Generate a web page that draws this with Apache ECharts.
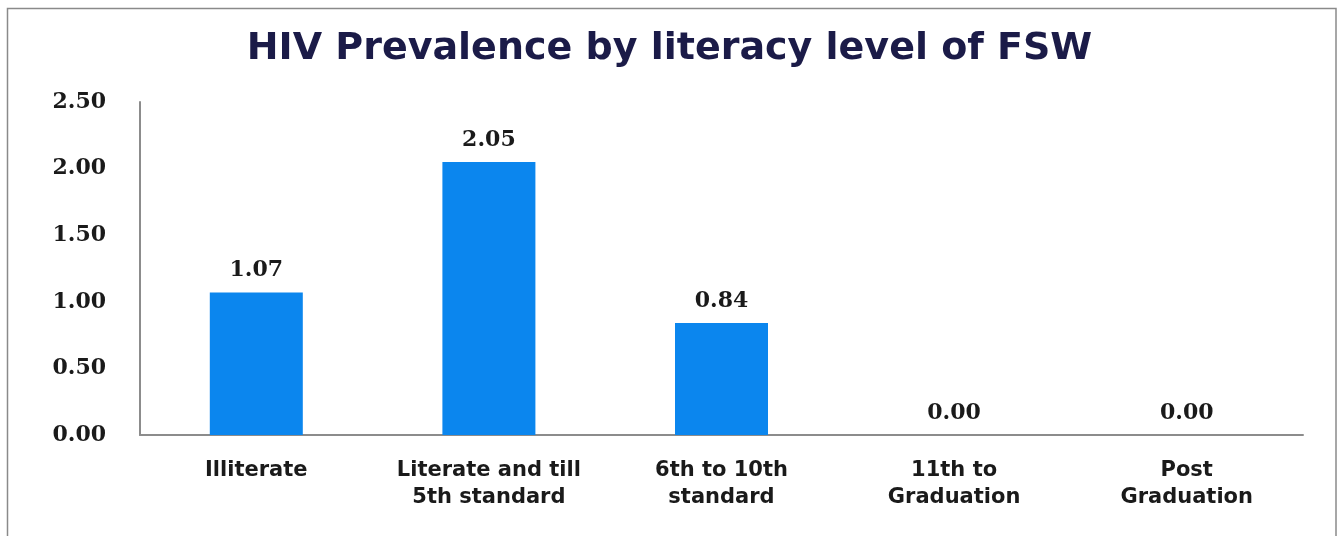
<!DOCTYPE html>
<html>
<head>
<meta charset="utf-8">
<script src="https://cdn.jsdelivr.net/npm/echarts@6/dist/echarts.min.js"></script>
<style>
  html, body { margin: 0; padding: 0; background: #fff; }
  #chart { width: 1339px; height: 536px; }
</style>
</head>
<body>
<div id="chart"></div>
<script>
var categories = ['Illiterate', 'Literate and till\n5th standard', '6th to 10th\nstandard', '11th to\nGraduation', 'Post\nGraduation'];
var prevalence = [1.07, 2.05, 0.84, 0.00, 0.00];

var chart = echarts.init(document.getElementById('chart'));

chart.setOption({
    animation: false,
    title: {
        text: 'HIV Prevalence by literacy level of FSW',
        left: 'center',
        top: 25,
        textStyle: {
            fontFamily: 'DejaVu Sans',
            fontWeight: 'bold',
            fontSize: 38,
            color: '#1b1b48'
        }
    },
    graphic: [{
        type: 'rect',
        shape: { x: 7.5, y: 8.5, width: 1328.5, height: 540 },
        style: { fill: 'none', stroke: '#8a8a8a', lineWidth: 1.5 },
        silent: true
    }],
    grid: { left: 140, right: 36, top: 102, bottom: 101 },
    xAxis: {
        type: 'category',
        data: categories,
        axisLine: { lineStyle: { color: '#8c8c8c', width: 2 } },
        axisTick: { show: false },
        axisLabel: {
            interval: 0,
            margin: 22,
            lineHeight: 27,
            fontFamily: 'DejaVu Sans',
            fontWeight: 'bold',
            fontSize: 21,
            color: '#1a1a1a'
        }
    },
    yAxis: {
        type: 'value',
        min: 0,
        max: 2.5,
        interval: 0.5,
        axisLine: { show: true, lineStyle: { color: '#8c8c8c', width: 2 } },
        axisTick: { show: false },
        splitLine: { show: false },
        axisLabel: {
            margin: 34,
            fontFamily: 'DejaVu Serif',
            fontWeight: 'bold',
            fontSize: 22,
            color: '#1a1a1a',
            formatter: function(v) { return v.toFixed(2); }
        }
    },
    series: [{
        type: 'bar',
        data: prevalence,
        barWidth: 93,
        itemStyle: { color: '#0b86ee' },
        label: {
            show: true,
            position: 'top',
            distance: 11,
            fontFamily: 'DejaVu Serif',
            fontWeight: 'bold',
            fontSize: 22,
            color: '#1a1a1a',
            formatter: function(p) { return p.value.toFixed(2); }
        }
    }]
});
</script>
</body>
</html>
